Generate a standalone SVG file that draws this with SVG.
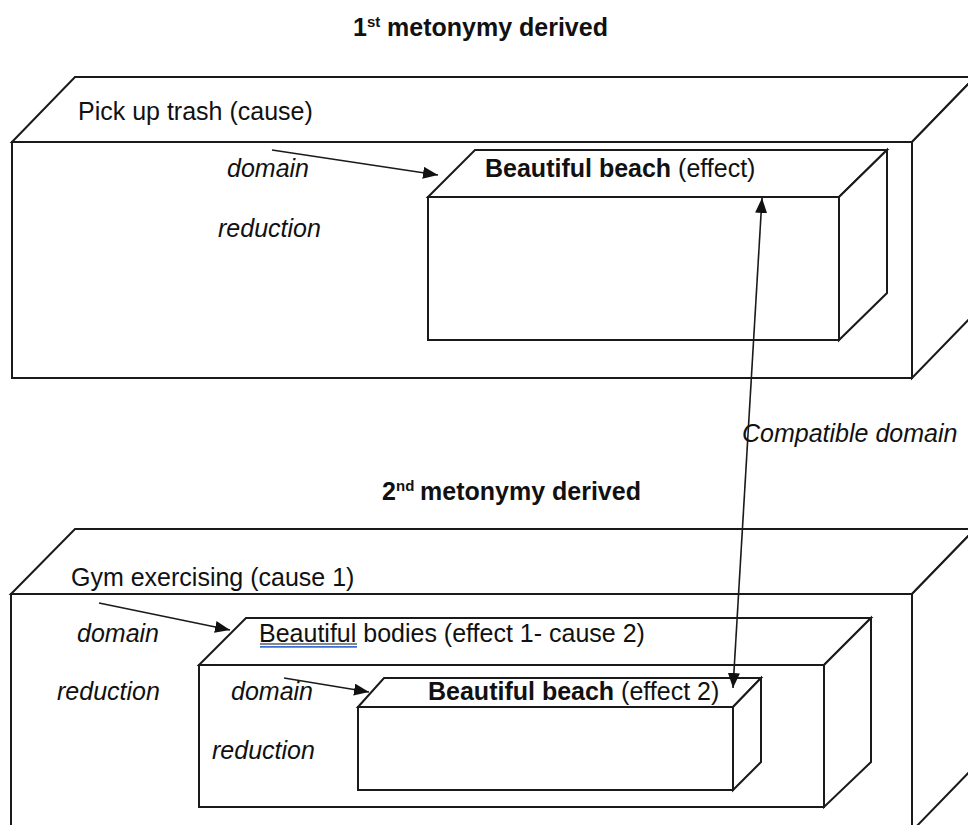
<svg xmlns="http://www.w3.org/2000/svg" width="968" height="825" viewBox="0 0 968 825">
<defs>
<style>
.box{fill:#fff;stroke:#1a1a1a;stroke-width:2;stroke-linejoin:miter}
.t{font-family:"Liberation Sans",Arial,sans-serif;font-size:25px;fill:#111}
.b{font-weight:bold}
.i{font-style:italic}
.sup{font-family:"Liberation Sans",Arial,sans-serif;font-size:15px;font-weight:bold;fill:#111}
.conn{stroke:#1a1a1a;stroke-width:1.6;fill:none}
</style>
<marker id="ah" markerUnits="userSpaceOnUse" markerWidth="16" markerHeight="12" refX="15" refY="6" orient="auto-start-reverse">
<path d="M0,0 L15,6 L0,12 Z" fill="#111"/>
</marker>
</defs>
<rect width="968" height="825" fill="#fff"/>

<g id="title1">
<text class="t b" x="353" y="36">1</text>
<text class="sup" x="367" y="27">st</text>
<text class="t b" x="387" y="36">metonymy derived</text>
</g>

<g id="cube-cause">
<polygon class="box" points="12,142 75,77 975,77 912,142"/>
<polygon class="box" points="912,142 975,77 975,313 912,378"/>
<rect class="box" x="12" y="142" width="900" height="236"/>
<text class="t" x="78" y="120">Pick up trash (cause)</text>
<text class="t i" x="227" y="177">domain</text>
<text class="t i" x="218" y="237">reduction</text>
</g>

<g id="cube-effect">
<polygon class="box" points="428,197 475,150 887,150 839,197"/>
<polygon class="box" points="839,197 887,150 887,293 839,340"/>
<rect class="box" x="428" y="197" width="411" height="143"/>
<text class="t" x="485" y="177"><tspan class="b">Beautiful beach</tspan> (effect)</text>
</g>

<g id="title2">
<text class="t b" x="382" y="500">2</text>
<text class="sup" x="396" y="491">nd</text>
<text class="t b" x="420" y="500">metonymy derived</text>
</g>

<g id="cube-cause1">
<polygon class="box" points="11,594 75,529 975,529 912,594"/>
<polygon class="box" points="912,594 975,529 975,766 912,831"/>
<rect class="box" x="11" y="594" width="901" height="237"/>
<text class="t" x="71" y="586">Gym exercising (cause 1)</text>
<text class="t i" x="77" y="642">domain</text>
<text class="t i" x="57" y="700">reduction</text>
</g>

<g id="cube-bodies">
<polygon class="box" points="199,665 246,618 871,618 824,665"/>
<polygon class="box" points="824,665 871,618 871,762 824,807"/>
<rect class="box" x="199" y="665" width="625" height="142"/>
<text class="t" x="259" y="642">Beautiful bodies (effect 1- cause 2)</text>
<line x1="260" y1="644" x2="357" y2="644" stroke="#111" stroke-width="1.2"/>
<line x1="260" y1="646.8" x2="357" y2="646.8" stroke="#3a6fd8" stroke-width="1.8"/>
<text class="t i" x="231" y="700">domain</text>
<text class="t i" x="212" y="759">reduction</text>
</g>

<g id="cube-effect2">
<polygon class="box" points="358,707 384,678 761,678 733,707"/>
<polygon class="box" points="733,707 761,678 761,762 733,790"/>
<rect class="box" x="358" y="707" width="375" height="83"/>
<text class="t" x="428" y="700"><tspan class="b">Beautiful beach</tspan> (effect 2)</text>
</g>

<g id="connectors">
<line class="conn" x1="272" y1="150" x2="438" y2="175" marker-end="url(#ah)"/>
<line class="conn" x1="99" y1="603" x2="230" y2="630" marker-end="url(#ah)"/>
<line class="conn" x1="284" y1="678" x2="369" y2="692" marker-end="url(#ah)"/>
<line class="conn" x1="762" y1="198" x2="733" y2="688" marker-start="url(#ah)" marker-end="url(#ah)"/>
<text class="t i" x="742" y="442">Compatible domain</text>
</g>
</svg>
